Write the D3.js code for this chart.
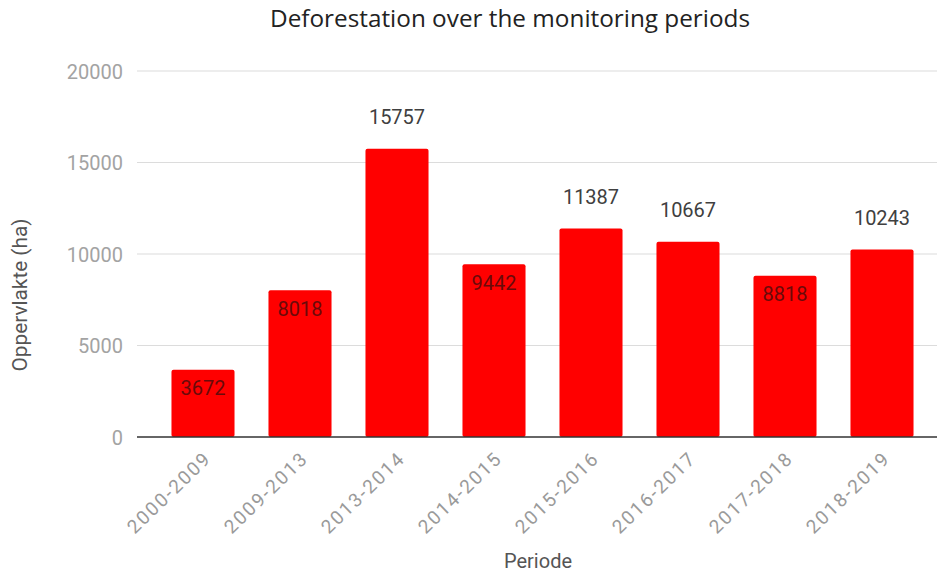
<!DOCTYPE html>
<html>
<head>
<meta charset="utf-8">
<script src="https://cdn.jsdelivr.net/npm/d3@7"></script>
<style>
  html, body { margin: 0; padding: 0; background: #fff; }
  svg { display: block; }
</style>
</head>
<body>
<svg id="chart" width="937" height="577"></svg>
<script>
// Deforested area (ha) per monitoring period
const periods = ["2000-2009", "2009-2013", "2013-2014", "2014-2015", "2015-2016", "2016-2017", "2017-2018", "2018-2019"];
const areaHa = [3672, 8018, 15757, 9442, 11387, 10667, 8818, 10243];
const yTicks = [0, 5000, 10000, 15000, 20000];

const titleText = "Deforestation over the monitoring periods";
const yTitle = "Oppervlakte (ha)";
const xTitle = "Periode";

const svg = d3.select("#chart");
const plot = { left: 137, right: 937, top: 71, bottom: 437 };

const x = d3.scaleBand()
  .domain(periods)
  .range([154.5, 930.5])
  .paddingInner(0.35)
  .paddingOuter(0.175);

const y = d3.scaleLinear()
  .domain([0, 20000])
  .range([plot.bottom, plot.top]);

const font = "Roboto, 'Noto Sans', sans-serif";

// gridlines
svg.append("g")
  .selectAll("line")
  .data(yTicks.filter(d => d !== 0))
  .join("line")
  .attr("x1", plot.left).attr("x2", plot.right)
  .attr("y1", d => y(d)).attr("y2", d => y(d))
  .attr("stroke", "#dcdcdc").attr("stroke-width", 1.2);

// y axis labels
const yAxis = svg.append("g")
  .attr("transform", `translate(${plot.left},0)`)
  .call(d3.axisLeft(y).tickValues(yTicks).tickSize(0).tickPadding(14).tickFormat(d3.format("d")));
yAxis.select(".domain").remove();
yAxis.selectAll("text")
  .attr("font-family", font)
  .attr("font-size", 20)
  .attr("fill", "#a3a3a3")
  .attr("dy", "0.36em");

// bars
svg.append("g")
  .selectAll("rect")
  .data(periods.map((p, i) => ({ p, v: areaHa[i] })))
  .join("rect")
  .attr("x", d => x(d.p))
  .attr("width", x.bandwidth())
  .attr("y", d => y(d.v))
  .attr("height", d => y(0) - y(d.v))
  .attr("rx", 2)
  .attr("fill", "#ff0000");

// baseline
svg.append("line")
  .attr("x1", plot.left).attr("x2", plot.right)
  .attr("y1", y(0)).attr("y2", y(0))
  .attr("stroke", "#333").attr("stroke-width", 1.5);

// value labels: above tall bars, inside the top of shorter ones
const insideLimit = 10000;
svg.append("g")
  .selectAll("text")
  .data(periods.map((p, i) => ({ p, v: areaHa[i] })))
  .join("text")
  .attr("x", d => x(d.p) + x.bandwidth() / 2)
  .attr("y", d => d.v >= insideLimit ? y(d.v) - 24.5 : y(d.v) + 25.5)
  .attr("text-anchor", "middle")
  .attr("font-family", font)
  .attr("font-size", 20)
  .attr("fill", d => d.v >= insideLimit ? "#404040" : "#6a0a0a")
  .text(d => d.v);

// x axis labels, slanted
const xAxis = svg.append("g")
  .attr("transform", `translate(0,${y(0)})`)
  .call(d3.axisBottom(x).tickSize(0).tickPadding(0));
xAxis.select(".domain").remove();
xAxis.selectAll("text")
  .attr("font-family", font)
  .attr("font-size", 19)
  .attr("textLength", 106)
  .attr("lengthAdjust", "spacing")
  .attr("fill", "#9a9a9a")
  .attr("text-anchor", "end")
  .attr("dy", null)
  .attr("y", 0)
  .attr("transform", "translate(8,24) rotate(-44)");

// title
svg.append("text")
  .attr("x", 510).attr("y", 27)
  .attr("text-anchor", "middle")
  .attr("font-family", "'Open Sans', sans-serif")
  .attr("font-size", 24)
  .attr("textLength", 480)
  .attr("lengthAdjust", "spacingAndGlyphs")
  .attr("fill", "#222")
  .text(titleText);

// axis titles
svg.append("text")
  .attr("transform", "translate(27,295) rotate(-90)")
  .attr("text-anchor", "middle")
  .attr("font-family", font)
  .attr("font-size", 20)
  .attr("textLength", 153)
  .attr("lengthAdjust", "spacingAndGlyphs")
  .attr("fill", "#555")
  .text(yTitle);

svg.append("text")
  .attr("x", 538).attr("y", 568)
  .attr("text-anchor", "middle")
  .attr("font-family", font)
  .attr("font-size", 20)
  .attr("fill", "#555")
  .text(xTitle);
</script>
</body>
</html>
